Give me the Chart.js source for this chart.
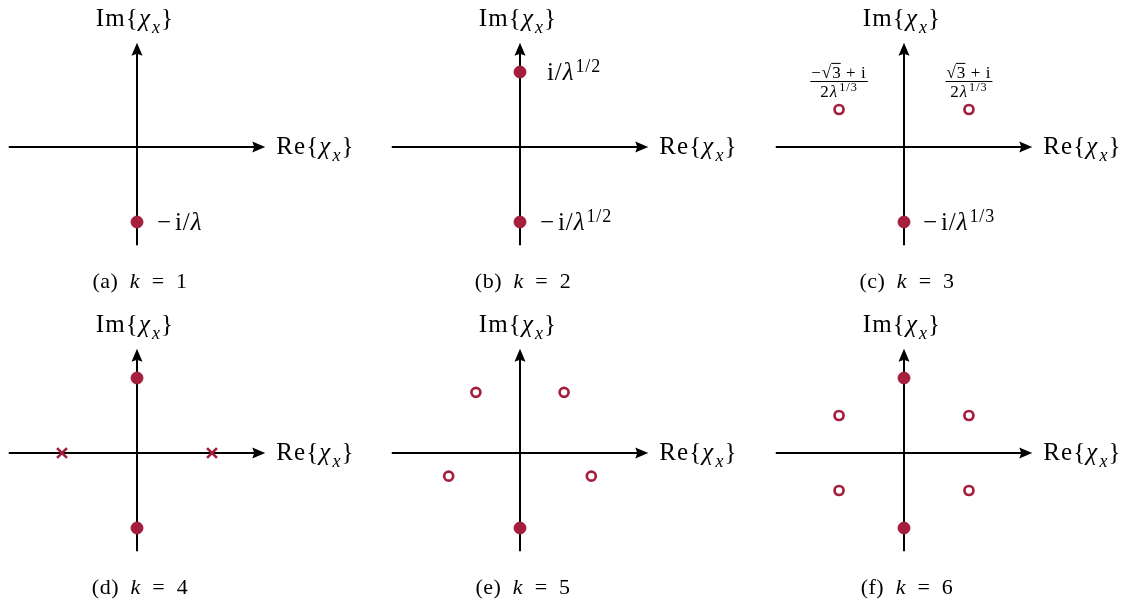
<!DOCTYPE html>
<html>
<head>
<meta charset="utf-8">
<script src="https://cdn.jsdelivr.net/npm/chart.js@4.4.1/dist/chart.umd.min.js"></script>
<style>
  body { margin: 0; background: #fff; }
  #lienzo { position: relative; width: 1132px; height: 605px; overflow: hidden; }
  #lienzo canvas { position: absolute; }
</style>
</head>
<body>
<div id="lienzo">
  <canvas id="k1" width="365" height="299" style="left:0;top:0"></canvas>
  <canvas id="k2" width="365" height="299" style="left:383px;top:0"></canvas>
  <canvas id="k3" width="365" height="299" style="left:767px;top:0"></canvas>
  <canvas id="k4" width="365" height="299" style="left:0;top:306px"></canvas>
  <canvas id="k5" width="365" height="299" style="left:383px;top:306px"></canvas>
  <canvas id="k6" width="365" height="299" style="left:767px;top:306px"></canvas>
</div>
<script>
// ─── Raíces de cada caso, en [Re, Im] (unidad = |χx|) ───────────────────────
const k1Llenos = [[0, -1]];
const k2Llenos = [[0, 1], [0, -1]];
const k3Llenos = [[0, -1]];
const k3Abiertos = [[-0.866, 0.5], [0.866, 0.5]];
const k4Llenos = [[0, 1], [0, -1]];
const k4Cruces = [[-1, 0], [1, 0]];
const k5Llenos = [[0, -1]];
const k5Abiertos = [[-0.588, 0.809], [0.588, 0.809], [-0.951, -0.309], [0.951, -0.309]];
const k6Llenos = [[0, 1], [0, -1]];
const k6Abiertos = [[-0.866, 0.5], [0.866, 0.5], [-0.866, -0.5], [0.866, -0.5]];

const letras = ['a', 'b', 'c', 'd', 'e', 'f'];
const valoresK = [1, 2, 3, 4, 5, 6];

// Textos (partes: [texto, estilo]  n=normal, i=itálica, sub, sup, rad=bajo raíz)
const txtEjeIm = [['Im{', 'n'], ['χ', 'i'], ['x', 'sub'], ['}', 'n']];
const txtEjeRe = [['Re{', 'n'], ['χ', 'i'], ['x', 'sub'], ['}', 'n']];
const txtMenosI1 = [['−\u200ai/', 'n'], ['λ', 'i']];
const txtI2 = [['i/', 'n'], ['λ', 'i'], ['1/2', 'sup']];
const txtMenosI2 = [['−\u200ai/', 'n'], ['λ', 'i'], ['1/2', 'sup']];
const txtMenosI3 = [['−\u200ai/', 'n'], ['λ', 'i'], ['1/3', 'sup']];
const numIzq = [['−', 'n'], ['√', 'n'], ['3', 'rad'], ['\u2009+\u2009i', 'n']];
const numDer = [['√', 'n'], ['3', 'rad'], ['\u2009+\u2009i', 'n']];
const denom = [['2', 'n'], ['λ', 'i'], ['1/3', 'sup']];

// Estilo
const ROJO = '#a51e3c';
const FUENTE = '"Liberation Serif", "DejaVu Serif", serif';
const PX_UNIDAD = 75;
const ORIGEN = { x: 137, y: 147 };
const EJE_RE = 1.71, EJE_IM_ARRIBA = 1.39, EJE_IM_ABAJO = -1.31;

const fuente = (tam, estilo) =>
  (estilo === 'i' || estilo === 'sub' ? 'italic ' : '') + tam + 'px ' + FUENTE;

function tamParte(tam, e) { return (e === 'sub' || e === 'sup') ? tam * 0.72 : tam; }

function anchoPartes(ctx, partes, tam) {
  return partes.reduce((w, [t, e]) => {
    ctx.font = fuente(tamParte(tam, e), e);
    return w + ctx.measureText(t).width + (e === 'sub' || e === 'sup' ? 1 : 0);
  }, 0);
}

function dibujarPartes(ctx, partes, x, base, tam, alinear, esp = 0) {
  ctx.letterSpacing = esp + 'px';
  const w = anchoPartes(ctx, partes, tam);
  let cx = alinear === 'center' ? x - w / 2 : x;
  ctx.textAlign = 'left';
  ctx.textBaseline = 'alphabetic';
  partes.forEach(([t, e]) => {
    const s = tamParte(tam, e);
    ctx.font = fuente(s, e);
    let dy = 0;
    if (e === 'sub') { dy = tam * 0.28; cx += 1; }
    if (e === 'sup') { dy = -tam * 0.34; cx += 1; }
    ctx.fillText(t, cx, base + dy);
    const tw = ctx.measureText(t).width;
    if (e === 'rad') {
      ctx.fillRect(cx - 1, base - tam * 0.86, tw, Math.max(1, tam * 0.06));
    }
    cx += tw;
  });
  ctx.letterSpacing = '0px';
  return w;
}

function flecha(ctx, x, y, ang) {
  ctx.save();
  ctx.translate(x, y);
  ctx.rotate(ang);
  ctx.beginPath();
  ctx.moveTo(0, 0);
  ctx.lineTo(-13, -5.5);
  ctx.lineTo(-11, 0);
  ctx.lineTo(-13, 5.5);
  ctx.closePath();
  ctx.fill();
  ctx.restore();
}

// Ejes, flechas, rótulos y subtítulo de cada plano
const planoComplejo = {
  id: 'planoComplejo',
  beforeDatasetsDraw(chart) {
    const { ctx, scales: { x, y } } = chart;
    const x0 = x.getPixelForValue(0), y0 = y.getPixelForValue(0);
    const xl = x.getPixelForValue(-EJE_RE), xr = x.getPixelForValue(EJE_RE);
    const yb = y.getPixelForValue(EJE_IM_ABAJO), yt = y.getPixelForValue(EJE_IM_ARRIBA);
    ctx.save();
    ctx.strokeStyle = '#000';
    ctx.fillStyle = '#000';
    ctx.lineWidth = 2;
    ctx.beginPath();
    ctx.moveTo(xl, y0); ctx.lineTo(xr - 11, y0);
    ctx.moveTo(x0, yb); ctx.lineTo(x0, yt + 11);
    ctx.stroke();
    flecha(ctx, xr, y0, 0);
    flecha(ctx, x0, yt, -Math.PI / 2);
    ctx.restore();
  },
  afterDatasetsDraw(chart, args, opts) {
    const { ctx, scales: { x, y } } = chart;
    const x0 = x.getPixelForValue(0), y0 = y.getPixelForValue(0);
    const xr = x.getPixelForValue(EJE_RE);
    ctx.save();
    ctx.fillStyle = '#000';
    dibujarPartes(ctx, txtEjeIm, x0 - 2, y0 - 121, 25, 'center', 1.1);
    dibujarPartes(ctx, txtEjeRe, xr + 11, y0 + 7, 25, 'left', 1.1);
    dibujarPartes(ctx, [[`(${opts.letra})\u2002`, 'n'], ['k', 'i'], ['\u2002=\u2002' + opts.k, 'n']],
      x0 + 3, y0 + 141, 22, 'center', 0.5);
    (opts.etiquetas || []).forEach(et => {
      const px = x.getPixelForValue(et.en[0]), py = y.getPixelForValue(et.en[1]);
      dibujarPartes(ctx, et.partes, px + et.dx, py + 8, 25, 'left', 0.9);
    });
    (opts.fracciones || []).forEach(fr => {
      const px = x.getPixelForValue(fr.en[0]), py = y.getPixelForValue(fr.en[1]);
      const barra = py - 28;
      const wn = dibujarPartes(ctx, fr.num, px, barra - 4, 17, 'center', 1);
      const wd = dibujarPartes(ctx, fr.den, px, barra + 15, 17, 'center', 1);
      const wb = Math.max(wn, wd) + 2;
      ctx.fillRect(px - wb / 2, barra - 0.5, wb, 1);
    });
    ctx.restore();
  }
};

const aPuntos = arr => arr.map(([re, im]) => ({ x: re, y: im }));

const paneles = [
  { id: 'k1', llenos: k1Llenos,
    etiquetas: [{ en: k1Llenos[0], dx: 20, partes: txtMenosI1 }] },
  { id: 'k2', llenos: k2Llenos,
    etiquetas: [{ en: k2Llenos[0], dx: 27, partes: txtI2 }, { en: k2Llenos[1], dx: 20, partes: txtMenosI2 }] },
  { id: 'k3', llenos: k3Llenos, abiertos: k3Abiertos,
    etiquetas: [{ en: k3Llenos[0], dx: 19, partes: txtMenosI3 }],
    fracciones: [{ en: k3Abiertos[0], num: numIzq, den: denom }, { en: k3Abiertos[1], num: numDer, den: denom }] },
  { id: 'k4', llenos: k4Llenos, cruces: k4Cruces },
  { id: 'k5', llenos: k5Llenos, abiertos: k5Abiertos },
  { id: 'k6', llenos: k6Llenos, abiertos: k6Abiertos }
];

paneles.forEach((p, i) => {
  const canvas = document.getElementById(p.id);
  const W = canvas.width, H = canvas.height;
  new Chart(canvas.getContext('2d'), {
    type: 'scatter',
    data: {
      datasets: [
        { data: aPuntos(p.llenos || []), pointStyle: 'circle', pointRadius: 6, pointHoverRadius: 6,
          backgroundColor: ROJO, borderColor: ROJO, borderWidth: 1 },
        { data: aPuntos(p.abiertos || []), pointStyle: 'circle', pointRadius: 4.5, pointHoverRadius: 4.5,
          backgroundColor: '#fff', borderColor: ROJO, borderWidth: 2.7 },
        { data: aPuntos(p.cruces || []), pointStyle: 'crossRot', pointRadius: 7, pointHoverRadius: 7,
          borderColor: ROJO, borderWidth: 2.6 }
      ]
    },
    options: {
      responsive: false,
      animation: false,
      events: [],
      layout: { padding: 0, autoPadding: false },
      plugins: {
        legend: { display: false },
        tooltip: { enabled: false },
        planoComplejo: { letra: letras[i], k: valoresK[i], etiquetas: p.etiquetas, fracciones: p.fracciones }
      },
      scales: {
        x: { type: 'linear', display: false, min: -ORIGEN.x / PX_UNIDAD, max: (W - ORIGEN.x) / PX_UNIDAD },
        y: { type: 'linear', display: false, min: -(H - ORIGEN.y) / PX_UNIDAD, max: ORIGEN.y / PX_UNIDAD }
      }
    },
    plugins: [planoComplejo]
  });
});
</script>
</body>
</html>
